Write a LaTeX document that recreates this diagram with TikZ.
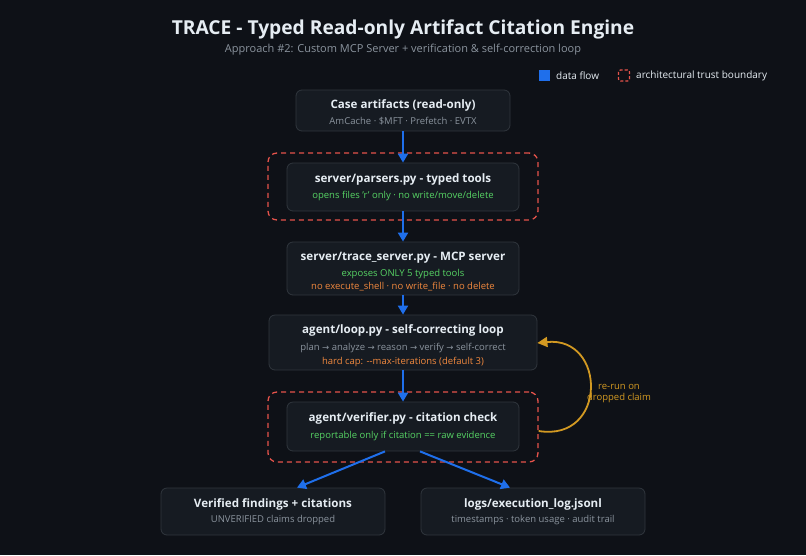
\documentclass[tikz,border=0pt]{standalone}
\usepackage{fontspec}
\setmainfont{Open Sans}
\newfontfamily\symfont{DejaVu Sans}
\usetikzlibrary{arrows.meta}
\definecolor{bg}{HTML}{0E1117}
\definecolor{boxfill}{HTML}{161B22}
\definecolor{boxline}{HTML}{30363D}
\definecolor{titlec}{HTML}{E6EDF3}
\definecolor{subc}{HTML}{8B949E}
\definecolor{greenc}{HTML}{56D364}
\definecolor{orangec}{HTML}{F0883E}
\definecolor{flowc}{HTML}{1F6FEB}
\definecolor{trustc}{HTML}{E5534B}
\definecolor{loopc}{HTML}{D29922}
\newcommand{\rarr}{{\symfont\fontsize{8.5}{11}\selectfont →}}
\tikzset{
  box/.style={draw=boxline, fill=boxfill, line width=0.8pt, rounded corners=6pt, inner sep=0pt},
  trust/.style={draw=trustc, line width=1.3pt, dash pattern=on 5pt off 4pt, rounded corners=9pt, inner sep=0pt},
  btitle/.style={text=titlec, font=\fontsize{11.6}{14}\selectfont\bfseries, inner sep=0pt},
  bsub/.style={text=subc, font=\fontsize{9.5}{11}\selectfont, inner sep=0pt},
  bgreen/.style={text=greenc, font=\fontsize{9.5}{11}\selectfont, inner sep=0pt},
  borange/.style={text=orangec, font=\fontsize{9.5}{11}\selectfont, inner sep=0pt},
  flow/.style={draw=flowc, line width=2pt, -{Triangle[length=9pt,width=10pt]}},
  loopar/.style={draw=loopc, line width=1.8pt, -{Triangle[length=10pt,width=10pt]}},
}
\begin{document}
\begin{tikzpicture}[x=1pt,y=-1pt]
\fill[bg] (0,0) rectangle (806,555);
\useasboundingbox (0,0) rectangle (806,555);
% title
\node[text=titlec, font=\fontsize{19.2}{22}\selectfont\bfseries, inner sep=0pt] (title) at (403,29) {TRACE - Typed Read-only Artifact Citation Engine};
\node[text=subc, font=\fontsize{11}{13}\selectfont, inner sep=0pt] (subtitle) at (403,50) {Approach \#2: Custom MCP Server + verification \& self-correction loop};
% legend
\node[fill=flowc, minimum width=11pt, minimum height=11pt, inner sep=0pt] (lgflow) at (544.5,75.5) {};
\node[text=titlec, font=\fontsize{10}{12}\selectfont, inner sep=0pt, anchor=west] (lgflowt) at (556,76) {data flow};
\node[draw=trustc, line width=1.2pt, dash pattern=on 3pt off 2pt, rounded corners=2pt, minimum width=11pt, minimum height=11pt, inner sep=0pt] (lgtrust) at (624,75.5) {};
\node[text=titlec, font=\fontsize{10}{12}\selectfont, inner sep=0pt, anchor=west] (lgtrustt) at (636,76) {architectural trust boundary};
% trust boundaries
\node[trust, minimum width=270pt, minimum height=67pt] (tb1) at (403,186.5) {};
\node[trust, minimum width=270pt, minimum height=70pt] (tb2) at (403,427) {};
% boxes
\node[box, minimum width=214pt, minimum height=41pt] (b1) at (403,110.5) {};
\node[btitle] (b1t) at (403,105) {Case artifacts (read-only)};
\node[bsub] (b1s) at (403,121.5) {AmCache · \$MFT · Prefetch · EVTX};

\node[box, minimum width=232pt, minimum height=48pt] (b2) at (403,187) {};
\node[btitle] (b2t) at (403,179) {server/parsers.py - typed tools};
\node[bgreen] (b2s) at (403,196.5) {opens files 'r' only · no write/move/delete};

\node[box, minimum width=232pt, minimum height=53pt] (b3) at (403,268.5) {};
\node[btitle] (b3t) at (403,257.5) {server/trace\_server.py - MCP server};
\node[bgreen] (b3s) at (403,274) {exposes ONLY 5 typed tools};
\node[borange] (b3o) at (403,287) {no execute\_shell · no write\_file · no delete};

\node[box, minimum width=268pt, minimum height=55pt] (b4) at (403,342.5) {};
\node[btitle] (b4t) at (403,330.5) {agent/loop.py - self-correcting loop};
\node[bsub] (b4s) at (403,347.5) {plan \rarr{} analyze \rarr{} reason \rarr{} verify \rarr{} self-correct};
\node[borange] (b4o) at (403,362) {hard cap: {-}{-}max-iterations (default 3)};

\node[box, minimum width=232pt, minimum height=49pt] (b5) at (403,426.5) {};
\node[btitle] (b5t) at (403,418) {agent/verifier.py - citation check};
\node[bgreen] (b5s) at (403,436) {reportable only if citation == raw evidence};

\node[box, minimum width=224pt, minimum height=47pt] (b6) at (273,511.5) {};
\node[btitle] (b6t) at (273,504) {Verified findings + citations};
\node[bsub] (b6s) at (273,520.5) {UNVERIFIED claims dropped};

\node[box, minimum width=224pt, minimum height=47pt] (b7) at (533,511.5) {};
\node[btitle] (b7t) at (533,504) {logs/execution\_log.jsonl};
\node[bsub] (b7s) at (533,520.5) {timestamps · token usage · audit trail};

% flows
\draw[flow] (b1.south) -- (b2.north);
\draw[flow] (b2.south) -- (b3.north);
\draw[flow] (b3.south) -- (b4.north);
\draw[flow] (b4.south) -- (b5.north);
\draw[flow] ([xshift=-18pt]b5.south) -- ([xshift=24pt]b6.north);
\draw[flow] ([xshift=17pt]b5.south) -- ([xshift=-23pt]b7.north);
% loop
\draw[loopar] ([yshift=-4pt]tb2.east) .. controls +(69pt,-11pt) and +(69pt,7pt) .. ([yshift=-0.5pt]b4.east);
\node[text=loopc, font=\fontsize{9.5}{11}\selectfont, inner sep=0pt, align=center] (looplbl) at (619,394) {re-run on\\dropped claim};
\end{tikzpicture}
\end{document}
